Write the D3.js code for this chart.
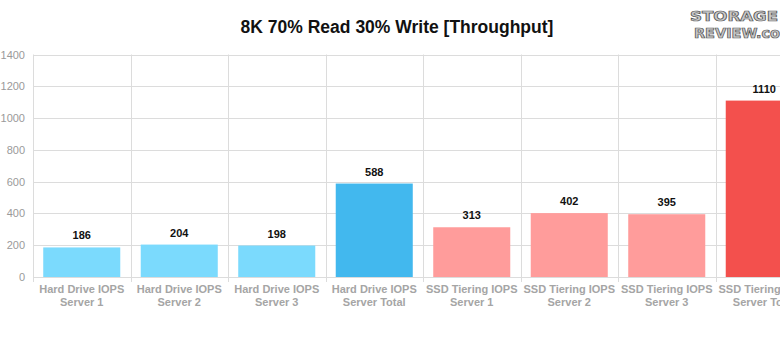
<!DOCTYPE html>
<html><head><meta charset="utf-8">
<script src="https://cdn.jsdelivr.net/npm/d3@7"></script>
<style>
html,body{margin:0;padding:0;background:#fff;overflow:hidden;}
svg{display:block;font-family:"Liberation Sans",Arial,Helvetica,sans-serif;}
</style></head><body>
<svg id="chart" width="780" height="337"></svg>
<script>
const title = "8K 70% Read 30% Write [Throughput]";
const categories = [
  ["Hard Drive IOPS","Server 1"],
  ["Hard Drive IOPS","Server 2"],
  ["Hard Drive IOPS","Server 3"],
  ["Hard Drive IOPS","Server Total"],
  ["SSD Tiering IOPS","Server 1"],
  ["SSD Tiering IOPS","Server 2"],
  ["SSD Tiering IOPS","Server 3"],
  ["SSD Tiering IOPS","Server Total"]
];
const values = [186, 204, 198, 588, 313, 402, 395, 1110];
const barColors = ["#7BDAFD","#7BDAFD","#7BDAFD","#42B8EE","#FF9C9B","#FF9C9B","#FF9C9B","#F3504D"];
const yTicks = [0, 200, 400, 600, 800, 1000, 1200, 1400];

(function(){
const svg = d3.select("#chart");
const mLeft = 33, mRight = 813, mTop = 54.5, mBottom = 277;

const x = d3.scaleBand().domain(d3.range(categories.length)).range([mLeft, mRight]).paddingInner(0.21).paddingOuter(0.105);
const y = d3.scaleLinear().domain([0, 1400]).range([mBottom, mTop]);

svg.append("text").attr("x", 397).attr("y", 33).attr("text-anchor", "middle")
  .attr("font-size", 17.5).attr("font-weight", "bold").attr("fill", "#111").text(title);

const g = svg.append("g");
g.selectAll("line.h").data(yTicks).join("line").attr("class","h")
  .attr("x1", mLeft).attr("x2", mRight).attr("y1", d => Math.round(y(d)) + 0.5).attr("y2", d => Math.round(y(d)) + 0.5)
  .attr("stroke", "#dcdcdc").attr("stroke-width", 1);

const step = x.step();
const bounds = d3.range(categories.length + 1).map(i => mLeft + i * step);
g.selectAll("line.v").data(bounds).join("line").attr("class","v")
  .attr("x1", d => Math.round(d) + 0.5).attr("x2", d => Math.round(d) + 0.5)
  .attr("y1", y(1400)).attr("y2", mBottom + 5)
  .attr("stroke", "#dcdcdc").attr("stroke-width", 1);

const yAxis = d3.axisLeft(y).tickValues(yTicks).tickFormat(d3.format("d")).tickSize(0).tickPadding(8);
const ya = svg.append("g").attr("transform", `translate(${mLeft},0)`).call(yAxis);
ya.select(".domain").remove();
ya.selectAll("text").attr("font-size", 11).attr("fill", "#9a9a9a")
  .attr("font-family", "'Liberation Sans',Arial,sans-serif");

svg.selectAll("rect.bar").data(values).join("rect").attr("class","bar")
  .attr("x", (d,i) => x(i)).attr("width", x.bandwidth())
  .attr("y", d => y(d)).attr("height", d => mBottom - y(d))
  .attr("fill", (d,i) => barColors[i]);

svg.selectAll("text.val").data(values).join("text").attr("class","val")
  .attr("x", (d,i) => x(i) + x.bandwidth()/2).attr("y", d => y(d) - 8)
  .attr("text-anchor", "middle").attr("font-size", 11).attr("font-weight", "bold").attr("fill", "#111")
  .text(d => d);

const xl = svg.selectAll("g.xl").data(categories).join("g").attr("class","xl")
  .attr("transform", (d,i) => `translate(${x(i) + x.bandwidth()/2},0)`);
xl.append("text").attr("y", 293).attr("text-anchor","middle").attr("font-size", 11).attr("font-weight","bold")
  .attr("fill","#a5a5a5").text(d => d[0]);
xl.append("text").attr("y", 306).attr("text-anchor","middle").attr("font-size", 11).attr("font-weight","bold")
  .attr("fill","#a5a5a5").text(d => d[1]);

const logo = svg.append("g").attr("font-family","'DejaVu Sans Condensed','Liberation Sans Narrow',sans-serif")
  .attr("font-weight","bold").attr("fill","#c8c8c8").attr("stroke","#555").attr("stroke-width",0.7);
logo.append("text").attr("x", 690).attr("y", 21).attr("font-size", 14).attr("textLength", 88).attr("lengthAdjust","spacingAndGlyphs").text("STORAGE");
logo.append("text").attr("x", 694).attr("y", 38).attr("font-size", 14).attr("textLength", 86).attr("lengthAdjust","spacingAndGlyphs").text("REVIEW.co");
})();
</script>
</body></html>
